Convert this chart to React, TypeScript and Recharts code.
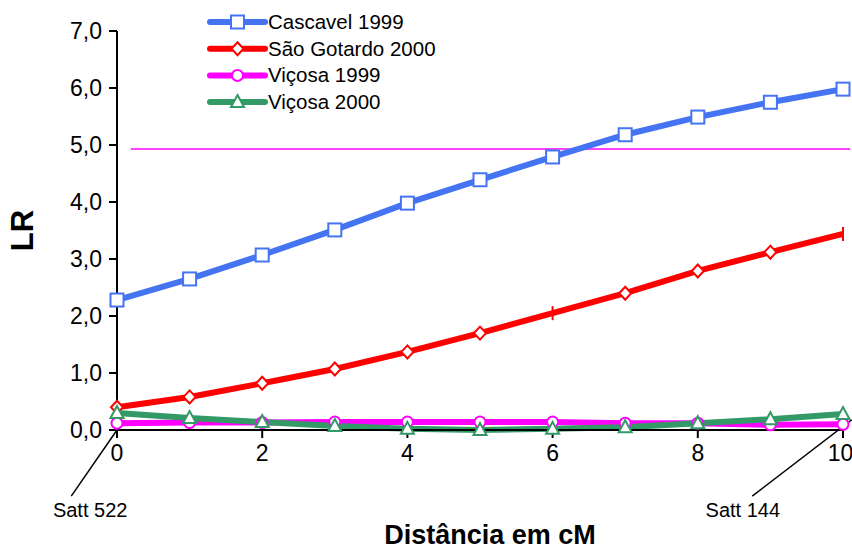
import React from "react";
import {
  Legend,
  Line,
  LineChart,
  ReferenceDot,
  ReferenceLine,
  XAxis,
  YAxis,
} from "recharts";

const distances = [0, 1, 2, 3, 4, 5, 6, 7, 8, 9, 10];
const cascavel1999 = [2.28, 2.65, 3.07, 3.51, 3.98, 4.39, 4.79, 5.18, 5.49, 5.75, 5.98];
const saoGotardo2000 = [0.4, 0.58, 0.82, 1.07, 1.37, 1.7, 2.05, 2.4, 2.79, 3.12, 3.44];
const vicosa1999 = [0.12, 0.13, 0.13, 0.14, 0.14, 0.14, 0.14, 0.12, 0.12, 0.09, 0.1];
const vicosa2000 = [0.3, 0.21, 0.14, 0.07, 0.02, 0.0, 0.02, 0.05, 0.12, 0.19, 0.28];
// points of São Gotardo drawn with a plain tick instead of a diamond
const saoGotardoTickPoints = [6, 10];

const xTicks = [0, 2, 4, 6, 8, 10];
const yTicks = [0, 1, 2, 3, 4, 5, 6, 7];
const lrThreshold = 4.93;

const FONT = "'Liberation Sans', Arial, sans-serif";

const series = [
  { key: "cascavel", name: "Cascavel 1999", color: "#4474F2", shape: "square" },
  { key: "saoGotardo", name: "São Gotardo 2000", color: "#FF0000", shape: "diamond" },
  { key: "vicosa99", name: "Viçosa 1999", color: "#FF00FF", shape: "circle" },
  { key: "vicosa00", name: "Viçosa 2000", color: "#339966", shape: "triangle" },
];

const data = distances.map((d, i) => ({
  d,
  cascavel: cascavel1999[i],
  saoGotardo: saoGotardo2000[i],
  vicosa99: vicosa1999[i],
  vicosa00: vicosa2000[i],
}));

function Marker({ shape, cx, cy, color }: { shape: string; cx: number; cy: number; color: string }) {
  const common = { fill: "#fff", stroke: color, strokeWidth: 2 };
  switch (shape) {
    case "square":
      return <rect x={cx - 6.5} y={cy - 6.5} width={13} height={13} {...common} />;
    case "diamond":
      return (
        <polygon
          points={`${cx},${cy - 6.5} ${cx + 6},${cy} ${cx},${cy + 6.5} ${cx - 6},${cy}`}
          {...common}
        />
      );
    case "circle":
      return <circle cx={cx} cy={cy} r={5.5} {...common} />;
    case "triangle":
      return (
        <polygon
          points={`${cx},${cy - 7} ${cx + 6.5},${cy + 5} ${cx - 6.5},${cy + 5}`}
          {...common}
        />
      );
    case "tick":
      return <line x1={cx} x2={cx} y1={cy - 7} y2={cy + 7} stroke={color} strokeWidth={2} />;
    default:
      return null;
  }
}

const makeDot = (key: string, shape: string, color: string) => (props: any) => {
  const { cx, cy, index } = props;
  const s = key === "saoGotardo" && saoGotardoTickPoints.includes(index) ? "tick" : shape;
  return (
    <g key={`${key}-${index}`}>
      <Marker shape={s} cx={cx} cy={cy} color={color} />
    </g>
  );
};

function LegendBox() {
  return (
    <svg width={260} height={115}>
      {series.map((s, i) => {
        const y = 14 + i * 26.7;
        return (
          <g key={s.key}>
            <line x1={5} x2={60} y1={y} y2={y} stroke={s.color} strokeWidth={6} strokeLinecap="round" />
            <Marker shape={s.shape} cx={32.5} cy={y} color={s.color} />
            <text x={63} y={y + 7} fontSize={20.5} fontFamily={FONT} fill="#000">
              {s.name}
            </text>
          </g>
        );
      })}
    </svg>
  );
}

const fmt = (v: number) => v.toFixed(1).replace(".", ",");

export default function App() {
  return (
    <div style={{ position: "absolute", left: 0, top: 0, background: "#fff" }}>
      <LineChart
        width={852}
        height={551}
        data={data}
        margin={{ top: 31, right: 9, bottom: 0, left: 0 }}
      >
        <XAxis
          dataKey="d"
          type="number"
          domain={[0, 10]}
          ticks={xTicks}
          height={121}
          stroke="#000"
          strokeWidth={2}
          tickSize={8}
          tick={{ fill: "#000", fontSize: 23, fontFamily: FONT, dy: 5 }}
          label={{
            value: "Distância em cM",
            position: "insideBottom",
            offset: 7,
            dx: 10,
            style: { fontSize: 27, fontWeight: "bold", fontFamily: FONT, fill: "#000" },
          }}
        />
        <YAxis
          domain={[0, 7]}
          ticks={yTicks}
          width={117}
          stroke="#000"
          strokeWidth={2}
          tickSize={8}
          tickFormatter={fmt}
          tick={{ fill: "#000", fontSize: 23, fontFamily: FONT, dx: -5 }}
          label={{
            value: "LR",
            angle: -90,
            position: "insideLeft",
            offset: 22,
            style: { fontSize: 31, fontWeight: "bold", fontFamily: FONT, fill: "#000", textAnchor: "middle" },
          }}
        />
        <Legend
          layout="vertical"
          align="center"
          verticalAlign="middle"
          content={() => <LegendBox />}
          wrapperStyle={{ top: 8, left: 205, width: 260, height: 115 }}
        />
        <ReferenceLine
          segment={[
            { x: 0.19, y: lrThreshold },
            { x: 10.1, y: lrThreshold },
          ]}
          stroke="#FF00FF"
          strokeWidth={1.5}
          ifOverflow="visible"
        />
        {/* marker annotations at both ends of the linkage group */}
        <ReferenceLine
          segment={[
            { x: 0, y: 0 },
            { x: -0.63, y: -1.16 },
          ]}
          stroke="#000"
          strokeWidth={1.5}
          ifOverflow="visible"
        />
        <ReferenceLine
          segment={[
            { x: 10.12, y: 0.18 },
            { x: 8.75, y: -1.16 },
          ]}
          stroke="#000"
          strokeWidth={1.5}
          ifOverflow="visible"
        />
        <ReferenceDot
          x={-0.37}
          y={-1.4}
          r={0}
          ifOverflow="visible"
          label={{ value: "Satt 522", position: "center", fontSize: 20, fontFamily: FONT, fill: "#000" }}
        />
        <ReferenceDot
          x={8.62}
          y={-1.4}
          r={0}
          ifOverflow="visible"
          label={{ value: "Satt 144", position: "center", fontSize: 20, fontFamily: FONT, fill: "#000" }}
        />
        {series.map((s) => (
          <Line
            key={s.key}
            type="linear"
            dataKey={s.key}
            name={s.name}
            stroke={s.color}
            strokeWidth={6}
            dot={makeDot(s.key, s.shape, s.color)}
            activeDot={false}
            isAnimationActive={false}
          />
        ))}
      </LineChart>
    </div>
  );
}
